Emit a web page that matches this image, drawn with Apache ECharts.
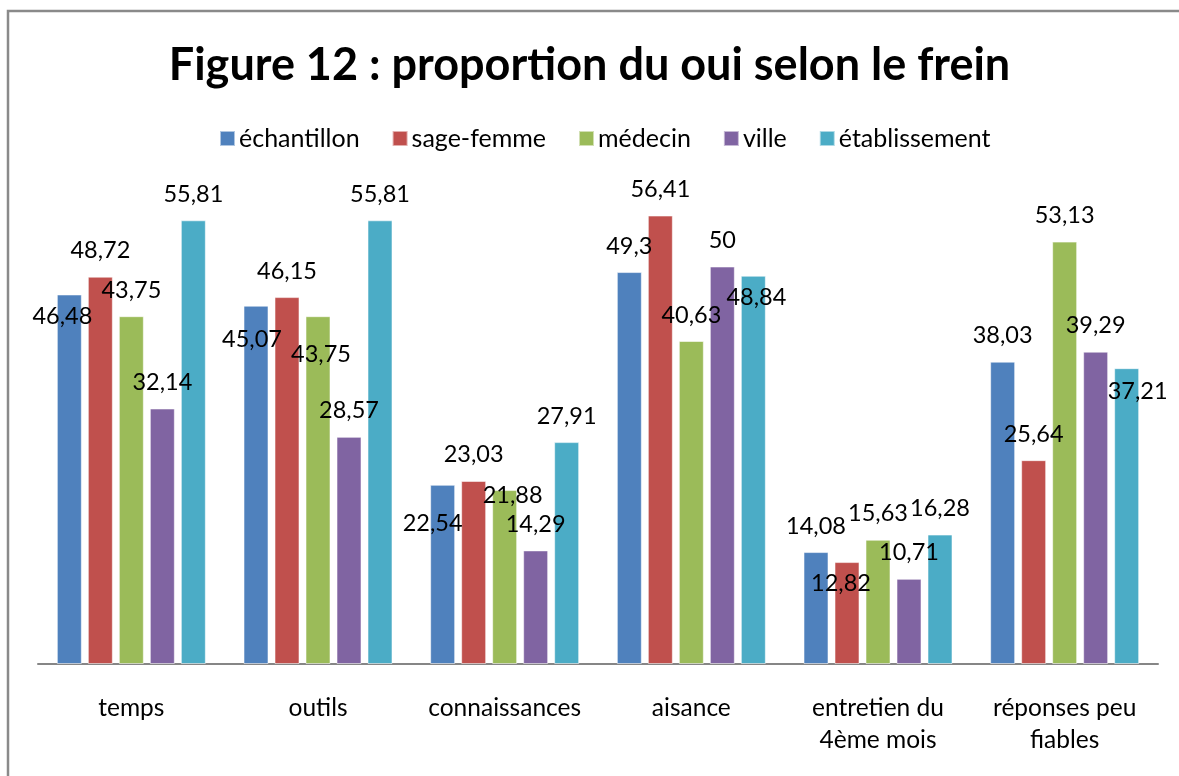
<!DOCTYPE html>
<html>
<head>
<meta charset="utf-8">
<title>Figure 12</title>
<script src="https://cdn.jsdelivr.net/npm/echarts@6/dist/echarts.min.js"></script>
<style>
    html, body { margin: 0; padding: 0; background: #fff; }
    #chart { width: 1179px; height: 776px; }
</style>
</head>
<body>
<div id="chart"></div>
<script>
var categories = ['temps', 'outils', 'connaissances', 'aisance', 'entretien du\n4ème mois', 'réponses peu\nfiables'];
var seriesNames = ['échantillon', 'sage-femme', 'médecin', 'ville', 'établissement'];
var echantillon = [46.48, 45.07, 22.54, 49.3, 14.08, 38.03];
var sageFemme = [48.72, 46.15, 23.03, 56.41, 12.82, 25.64];
var medecin = [43.75, 43.75, 21.88, 40.63, 15.63, 53.13];
var ville = [32.14, 28.57, 14.29, 50, 10.71, 39.29];
var etablissement = [55.81, 55.81, 27.91, 48.84, 16.28, 37.21];

var colors = ['#4F81BD', '#C0504D', '#9BBB59', '#8064A2', '#4BACC6'];
var font = 'Lato, "Open Sans", sans-serif';

// étiquettes déplacées à la main dans l'original : [série, catégorie, dx, dy]
var labelShift = [
    [0, 0, -7, 48],
    [0, 1, -4, 60],
    [2, 1, 3, 64],
    [0, 2, -10, 65],
    [2, 2, 8, 31],
    [4, 3, 3, 48],
    [1, 4, -6, 47],
    [4, 5, 11, 49]
];

function frNum(v) {
    return String(v).replace('.', ',');
}

function buildData(values, si) {
    return values.map(function (v, ci) {
        var item = { value: v };
        labelShift.forEach(function (s) {
            if (s[0] === si && s[1] === ci) {
                item.label = { offset: [s[2], s[3]] };
            }
        });
        return item;
    });
}

var allValues = [echantillon, sageFemme, medecin, ville, etablissement];
var series = allValues.map(function (values, si) {
    return {
        name: seriesNames[si],
        type: 'bar',
        barWidth: 25,
        barGap: '24%',
        itemStyle: {
            color: colors[si],
            borderColor: 'rgba(255,255,255,0.55)',
            borderWidth: 1
        },
        label: {
            show: true,
            position: 'top',
            distance: 14,
            color: '#000',
            fontFamily: font,
            fontSize: 23.5,
            lineHeight: 24,
            formatter: function (p) {
                return frNum(p.value);
            }
        },
        data: buildData(values, si)
    };
});

var chart = echarts.init(document.getElementById('chart'));
var option = {
    backgroundColor: '#fff',
    animation: false,
    color: colors,
    title: {
        text: 'Figure 12 : proportion du oui selon le frein',
        left: 'center',
        top: 38,
        textStyle: {
            fontFamily: font,
            fontSize: 45,
            fontWeight: 'bold',
            color: '#000'
        }
    },
    legend: {
        top: 121,
        left: 214,
        icon: 'rect',
        itemWidth: 15,
        itemHeight: 15,
        itemGap: 32,
        textStyle: {
            fontFamily: font,
            fontSize: 25,
            color: '#000',
            padding: [0, 0, 0, -1]
        },
        data: seriesNames
    },
    grid: {
        left: 38,
        right: 21,
        top: 187,
        bottom: 112,
        containLabel: false
    },
    xAxis: {
        type: 'category',
        data: categories,
        axisLine: {
            lineStyle: { color: '#868686', width: 2 }
        },
        axisTick: { show: false },
        axisLabel: {
            interval: 0,
            margin: 28,
            color: '#000',
            fontFamily: font,
            fontSize: 24.5,
            lineHeight: 32
        }
    },
    yAxis: {
        type: 'value',
        min: 0,
        max: 60,
        show: false,
        splitLine: { show: false }
    },
    graphic: [
        {
            type: 'rect',
            shape: { x: 8, y: 11, width: 1300, height: 900 },
            style: { fill: 'none', stroke: '#8a8a8a', lineWidth: 2.5 },
            silent: true
        }
    ],
    series: series
};
chart.setOption(option);
</script>
</body>
</html>
